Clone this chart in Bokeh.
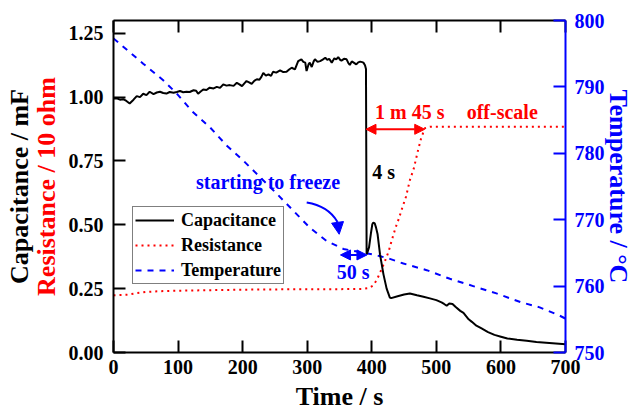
from bokeh.plotting import figure
from bokeh.models import (Range1d, LinearAxis, FixedTicker, Label, Arrow, NormalHead,
                          Legend, LegendItem)
from bokeh.embed import file_html
from bokeh.resources import INLINE

FONT = "Liberation Serif"
BLUE = "#0000FF"
RED = "#FF0000"
BLACK = "#000000"

# ---------------- data ----------------
cap_t = [0, 5, 10, 15, 20, 25, 31, 36, 41, 46, 51, 56, 62, 67, 72, 77, 82, 87, 93, 98,
         103, 108, 113, 118, 124, 128, 131, 135, 139, 144, 149, 155, 160, 165, 170, 175,
         180, 186, 191, 195, 199, 203, 206, 210, 214, 218, 222, 226, 229, 232, 236, 240,
         244, 247, 252, 258, 263, 268, 272, 276, 281, 286, 291, 294, 297, 299, 302, 304,
         307, 310, 312, 316, 320, 324, 328, 331, 334, 338, 342, 345, 348, 351, 353, 357,
         361, 364, 366, 369, 372, 376, 379, 382, 385, 387, 389.5, 391, 392, 393, 395.7,
         398.8, 400.8, 402.5, 404.5, 406.5, 409, 412.7, 418, 423, 428, 430, 440, 450, 459,
         470, 480, 490, 500, 508, 512, 516, 520, 525, 530, 537, 542, 550, 555, 562, 570,
         580, 590, 600, 610, 625, 640, 655, 670, 685, 700]
cap_v = [0.995, 0.995, 0.990, 0.992, 0.985, 0.975, 0.990, 1.004, 1.000, 1.013, 1.008, 1.021,
         1.012, 1.018, 1.021, 1.016, 1.014, 1.020, 1.017, 1.020, 1.024, 1.019, 1.021, 1.020,
         1.027, 1.025, 1.013, 1.022, 1.030, 1.028, 1.037, 1.034, 1.040, 1.036, 1.050, 1.045,
         1.047, 1.044, 1.056, 1.050, 1.043, 1.055, 1.063, 1.058, 1.052, 1.064, 1.070, 1.068,
         1.079, 1.095, 1.084, 1.089, 1.083, 1.099, 1.096, 1.105, 1.098, 1.099, 1.108, 1.115,
         1.109, 1.141, 1.148, 1.138, 1.135, 1.102, 1.128, 1.135, 1.118, 1.140, 1.148, 1.138,
         1.141, 1.147, 1.154, 1.146, 1.150, 1.135, 1.152, 1.148, 1.157, 1.146, 1.143, 1.150,
         1.148, 1.132, 1.126, 1.140, 1.135, 1.128, 1.136, 1.139, 1.137, 1.135, 1.125, 1.110,
         0.385, 0.390, 0.411, 0.469, 0.502, 0.509, 0.506, 0.490, 0.463, 0.385, 0.307, 0.250,
         0.215, 0.213, 0.220, 0.227, 0.231, 0.224, 0.218, 0.212, 0.205, 0.196, 0.190, 0.183,
         0.192, 0.190, 0.178, 0.163, 0.155, 0.130, 0.120, 0.105, 0.094, 0.080, 0.069, 0.062,
         0.055, 0.050, 0.046, 0.041, 0.038, 0.035, 0.032]

res_t = [0, 20, 35, 50, 70, 100, 150, 200, 250, 300, 350, 385, 395, 402, 408, 414, 420,
         426, 431, 437, 442, 447, 453, 459, 465, 471, 476, 482, 490, 700]
res_v = [0.224, 0.226, 0.232, 0.237, 0.240, 0.242, 0.244, 0.246, 0.247, 0.248, 0.248, 0.249,
         0.252, 0.262, 0.285, 0.320, 0.355, 0.395, 0.440, 0.490, 0.525, 0.565, 0.610, 0.675,
         0.720, 0.785, 0.835, 0.878, 0.884, 0.884]

temp_t = [0, 46, 77, 98, 121, 149.5, 175, 201, 227, 253, 278, 304, 330, 356, 377, 400, 413,
          428, 449, 485, 521, 557, 593, 630, 660, 690, 700]
temp_v = [797.3, 793.5, 791.0, 789.0, 786.4, 783.9, 781.2, 778.9, 776.4, 773.9, 771.4, 768.8,
          766.8, 765.6, 765.2, 764.8, 764.5, 764.1, 763.4, 762.4, 761.1, 760.0, 758.9, 757.6,
          756.8, 755.6, 755.1]

x_ticks = [0, 100, 200, 300, 400, 500, 600, 700]
x_tick_labels = ["0", "100", "200", "300", "400", "500", "600", "700"]
y_ticks = [0.0, 0.25, 0.5, 0.75, 1.0, 1.25]
y_tick_labels = ["0.00", "0.25", "0.50", "0.75", "1.00", "1.25"]
temp_ticks = [750, 760, 770, 780, 790, 800]
temp_tick_labels = ["750", "760", "770", "780", "790", "800"]

series_names = ["Capacitance", "Resistance", "Temperature"]

# ---------------- figure ----------------
p = figure(width=636, height=413, x_range=Range1d(0, 700), y_range=Range1d(0, 1.3),
           output_backend="svg", toolbar_location=None,
           x_axis_type=None, y_axis_type=None,
           min_border_left=113, min_border_right=71, min_border_top=20, min_border_bottom=61)
p.extra_y_ranges = {"temp": Range1d(750, 800)}
p.outline_line_color = None
p.background_fill_color = "white"
p.border_fill_color = "white"


def style_axis(ax, color, size="20px", standoff=8):
    ax.axis_line_color = color
    ax.axis_line_width = 2
    ax.major_tick_line_color = color
    ax.major_tick_line_width = 2
    ax.major_tick_in = 12
    ax.major_tick_out = 0
    ax.minor_tick_line_color = None
    ax.major_label_text_font = FONT
    ax.major_label_text_font_style = "bold"
    ax.major_label_text_font_size = size
    ax.major_label_text_color = color
    ax.major_label_standoff = standoff
    ax.axis_label_text_font = FONT
    ax.axis_label_text_font_style = "bold"
    ax.axis_label_text_font_size = "26px"
    ax.axis_label_text_color = color


bottom = LinearAxis(ticker=FixedTicker(ticks=x_ticks),
                    major_label_overrides=dict(zip(x_ticks, x_tick_labels)),
                    axis_label="Time / s")
style_axis(bottom, BLACK, standoff=7)
bottom.axis_label_standoff = 5
p.add_layout(bottom, "below")

top = LinearAxis(ticker=FixedTicker(ticks=x_ticks))
style_axis(top, BLACK, size="0px", standoff=0)
top.major_label_text_color = None
p.add_layout(top, "above")

left = LinearAxis(ticker=FixedTicker(ticks=y_ticks),
                  major_label_overrides=dict(zip(y_ticks, y_tick_labels)),
                  axis_label="Resistance / 10 ohm")
style_axis(left, BLACK, standoff=10)
left.axis_label_text_color = RED
left.axis_label_standoff = 5
p.add_layout(left, "left")

left_outer = LinearAxis(ticker=FixedTicker(ticks=[]), axis_label="Capacitance / mF")
style_axis(left_outer, BLACK, size="0px", standoff=0)
left_outer.axis_line_color = None
left_outer.major_tick_line_color = None
left_outer.major_label_text_color = None
left_outer.axis_label_standoff = -5
p.add_layout(left_outer, "left")

right = LinearAxis(y_range_name="temp", ticker=FixedTicker(ticks=temp_ticks),
                   major_label_overrides=dict(zip(temp_ticks, temp_tick_labels)),
                   axis_label="Temperature / \u00b0C")
style_axis(right, BLUE, standoff=9)
right.axis_label_standoff = -4
p.add_layout(right, "right")

# ---------------- series ----------------
r_temp = p.line(temp_t, temp_v, y_range_name="temp", line_color=BLUE, line_width=2,
                line_dash="6 6")
r_res = p.line(res_t, res_v, line_color=RED, line_width=2, line_dash="2 4")
r_cap = p.line(cap_t, cap_v, line_color=BLACK, line_width=2)

legend = Legend(items=[LegendItem(label=series_names[0], renderers=[r_cap]),
                       LegendItem(label=series_names[1], renderers=[r_res]),
                       LegendItem(label=series_names[2], renderers=[r_temp])],
                location=(19, 68))
legend.label_text_font = FONT
legend.label_text_font_style = "bold"
legend.label_text_font_size = "18px"
legend.label_text_color = BLACK
legend.glyph_width = 39
legend.glyph_height = 20
legend.label_height = 22
legend.label_standoff = 7
legend.padding = 2
legend.spacing = 3
legend.margin = 0
legend.border_line_color = BLACK
legend.border_line_width = 1.5
legend.background_fill_color = "white"
legend.background_fill_alpha = 1
p.add_layout(legend, "center")

# ---------------- annotations ----------------
def note(text, x, y, color):
    return Label(x=x, y=y, text=text, text_align="left", text_baseline="alphabetic",
                 text_font=FONT, text_font_style="bold", text_font_size="20px",
                 text_color=color)


p.add_layout(note("1 m 45 s", 405, 0.940, RED))
p.add_layout(note("off-scale", 547, 0.940, RED))
p.add_layout(note("4 s", 400.8, 0.707, BLACK))
p.add_layout(note("starting to freeze", 127.8, 0.667, BLUE))
p.add_layout(note("50 s", 345.7, 0.314, BLUE))

p.add_layout(Arrow(start=NormalHead(size=10, fill_color=RED, line_color=RED),
                   end=NormalHead(size=10, fill_color=RED, line_color=RED),
                   x_start=391, y_start=0.874, x_end=482, y_end=0.874,
                   line_color=RED, line_width=2))
p.add_layout(Arrow(start=NormalHead(size=10, fill_color=BLUE, line_color=BLUE),
                   end=NormalHead(size=10, fill_color=BLUE, line_color=BLUE),
                   x_start=351.5, y_start=0.382, x_end=392.5, y_end=0.382,
                   line_color=BLUE, line_width=2))

p.quadratic(x0=[299.2], y0=[0.587], x1=[346.9], y1=[0.511], cx=[332.2], cy=[0.574],
            line_color=BLUE, line_width=2)
p.add_layout(Arrow(end=NormalHead(size=12, fill_color=BLUE, line_color=BLUE),
                   x_start=346.9, y_start=0.511, x_end=349.5, y_end=0.463,
                   line_color=BLUE, line_width=2))

open("out.html", "w").write(file_html(p, INLINE))
